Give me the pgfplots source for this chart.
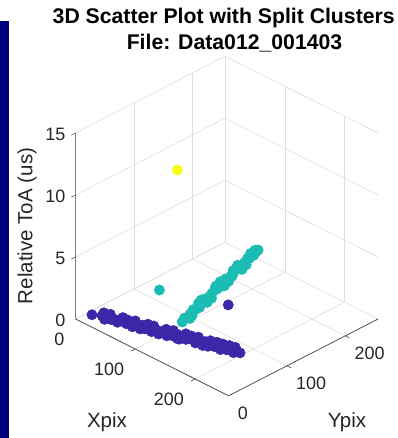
\documentclass[border=0pt]{standalone}
\usepackage{pgfplots}
\pgfplotsset{compat=1.18}
\usepackage{fontspec}
\setmainfont{Liberation Sans}
\definecolor{cpurple}{HTML}{3E26A8}
\definecolor{cteal}{HTML}{1ABCB4}
\definecolor{cyellow}{HTML}{F9FB15}
\definecolor{navybar}{HTML}{00007F}
\definecolor{axisgray}{HTML}{262626}
\definecolor{gridgray}{HTML}{DEDEDE}

\pgfplotstableread{
x y z
9 19 0.1
21 24 0.2
25 24 0.0
29 26 0.3
33 27 0.1
37 28 0.2
41 30 0.0
45 30 0.3
49 32 0.2
53 33 0.1
57 35 0.3
61 35 0.0
65 37 0.2
69 38 0.1
73 40 0.3
77 40 0.1
81 42 0.2
85 43 0.0
89 44 0.3
93 46 0.2
97 47 0.1
101 48 0.3
105 49 0.0
109 51 0.2
113 52 0.1
117 54 0.3
121 54 0.0
125 56 0.2
129 57 0.1
133 58 0.3
137 60 0.2
141 61 0.0
145 62 0.2
149 64 0.1
153 65 0.3
157 66 0.0
161 67 0.2
165 69 0.1
169 70 0.3
173 71 0.0
177 73 0.2
181 74 0.1
185 75 0.3
189 77 0.0
193 78 0.2
197 80 0.1
23 25 0.45
31 28 0.45
39 31 0.0
47 33 0.45
55 33 0.45
63 38 0.45
71 38 0.0
79 43 0.45
87 45 0.45
95 45 0.0
103 50 0.45
111 54 0.45
119 53 0.0
127 59 0.45
135 60 0.45
143 64 0.45
151 63 0.0
159 68 0.45
167 71 0.45
175 73 0.45
183 76 0.45
191 78 0.45
106 153 0.0
}\clusterA

\pgfplotstableread{
x y z
105.5 74.8 0.50
107.2 76.8 0.80
108.8 80.5 0.81
110.5 80.9 0.85
112.1 81.5 1.13
113.8 84.9 1.45
115.4 86.9 1.44
117.1 91.0 1.60
118.7 91.0 1.60
120.4 91.5 1.91
122.0 95.0 2.25
123.7 97.0 2.23
125.4 101.0 2.39
127.0 101.0 2.40
128.7 101.5 2.70
130.3 105.1 3.00
132.0 107.1 3.01
133.6 111.0 3.17
135.3 111.1 3.20
136.9 111.5 3.49
138.6 115.1 3.80
140.2 117.2 3.80
141.9 121.0 3.96
143.6 121.2 4.00
145.2 121.8 4.27
146.9 125.2 4.60
148.5 127.2 4.59
150.2 131.0 4.74
151.8 131.3 4.75
153.5 132.0 5.06
155.1 135.3 5.35
156.8 137.3 5.37
158.4 141.0 5.53
160.1 141.4 5.60
161.7 143.4 5.84
163.4 145.4 6.00
111.3 81.9 0.75
117.9 89.9 1.95
124.5 98.0 1.98
131.1 106.1 3.25
137.7 114.1 3.25
144.4 122.2 4.45
151.0 130.3 4.50
157.6 138.3 5.75
113.0 84.0 1.00
120.0 92.5 2.20
127.8 102.0 2.30
134.5 110.0 3.60
141.0 118.0 3.60
147.7 126.2 4.85
154.3 134.3 4.85
161.0 142.4 6.00
74.3 67.6 2.5
}\clusterB

\pgfplotstableread{
x y z
85.8 86.5 12
}\clusterC

\begin{document}
\begin{tikzpicture}[x=1bp,y=1bp]
\useasboundingbox (0,0) rectangle (397,438);
\fill[navybar] (0,0) rectangle (8.5,417);
\begin{axis}[
  at={(75.5bp,119bp)}, anchor=origin,
  x={(0.598bp,-0.300bp)}, y={(0.584bp,0.300bp)}, z={(0bp,12.4bp)},
  xmin=0, xmax=256, ymin=0, ymax=256, zmin=0, zmax=15,
  xtick={0,100,200}, ytick={0,100,200}, ztick={0,5,10,15},
  grid=major,
  major grid style={color=gridgray, line width=0.6bp},
  axis line style={draw=none},
  tick style={draw=none},
  /pgf/number format/assume math mode=true,
  ticklabel style={font=\fontsize{18}{18}\selectfont, text=axisgray, inner sep=0pt},
  xticklabel style={anchor=east, xshift=-11bp, yshift=-20bp},
  yticklabel style={anchor=west, xshift=9bp, yshift=-18bp},
  zticklabel style={anchor=east, xshift=-10bp, yshift=-1bp},
  clip=false,
]
\draw[axisgray!80, line width=0.8bp] (axis cs:0,0,0) -- (axis cs:256,0,0);
\draw[axisgray!80, line width=0.8bp] (axis cs:256,0,0) -- (axis cs:256,256,0);
\draw[axisgray!60, line width=1bp] (axis cs:0,0,0) -- (axis cs:0,0,15);
\draw[axisgray!80, line width=0.6bp] (axis cs:100,0,0) -- (axis cs:100,-7,0);
\draw[axisgray!80, line width=0.6bp] (axis cs:200,0,0) -- (axis cs:200,-7,0);
\draw[axisgray!80, line width=0.6bp] (axis cs:256,100,0) -- (axis cs:263,100,0);
\draw[axisgray!80, line width=0.6bp] (axis cs:256,200,0) -- (axis cs:263,200,0);
\draw[axisgray!80, line width=0.6bp] (axis cs:0,0,5) -- (axis cs:0,-7,5);
\draw[axisgray!80, line width=0.6bp] (axis cs:0,0,10) -- (axis cs:0,-7,10);
\draw[axisgray!80, line width=0.6bp] (axis cs:0,0,15) -- (axis cs:0,-7,15);
\addplot3[only marks, mark=*, mark size=5.2bp, color=cteal, mark options={draw=cteal, fill=cteal}] table[x=x,y=y,z=z] {\clusterB};
\addplot3[only marks, mark=*, mark size=5.2bp, color=cpurple, mark options={draw=cpurple, fill=cpurple}] table[x=x,y=y,z=z] {\clusterA};
\addplot3[only marks, mark=*, mark size=5.2bp, color=cyellow, mark options={draw=cyellow, fill=cyellow}] table[x=x,y=y,z=z] {\clusterC};
\end{axis}
\node[anchor=base, font=\fontsize{21.3}{21.3}\selectfont\bfseries, text=black] at (223.7,414) {3D Scatter Plot with Split Clusters};
\node[anchor=base, font=\fontsize{21.3}{21.3}\selectfont\bfseries, text=black] at (234.5,388) {File: Data012\_001403};
\node[anchor=center, font=\fontsize{20.6}{20.6}\selectfont, text=axisgray] at (107,16) {Xpix};
\node[anchor=center, font=\fontsize{20.6}{20.6}\selectfont, text=axisgray] at (347,16) {Ypix};
\node[anchor=center, rotate=90, font=\fontsize{20.6}{20.6}\selectfont, text=axisgray] at (27,212) {Relative ToA (us)};
\end{tikzpicture}
\end{document}
